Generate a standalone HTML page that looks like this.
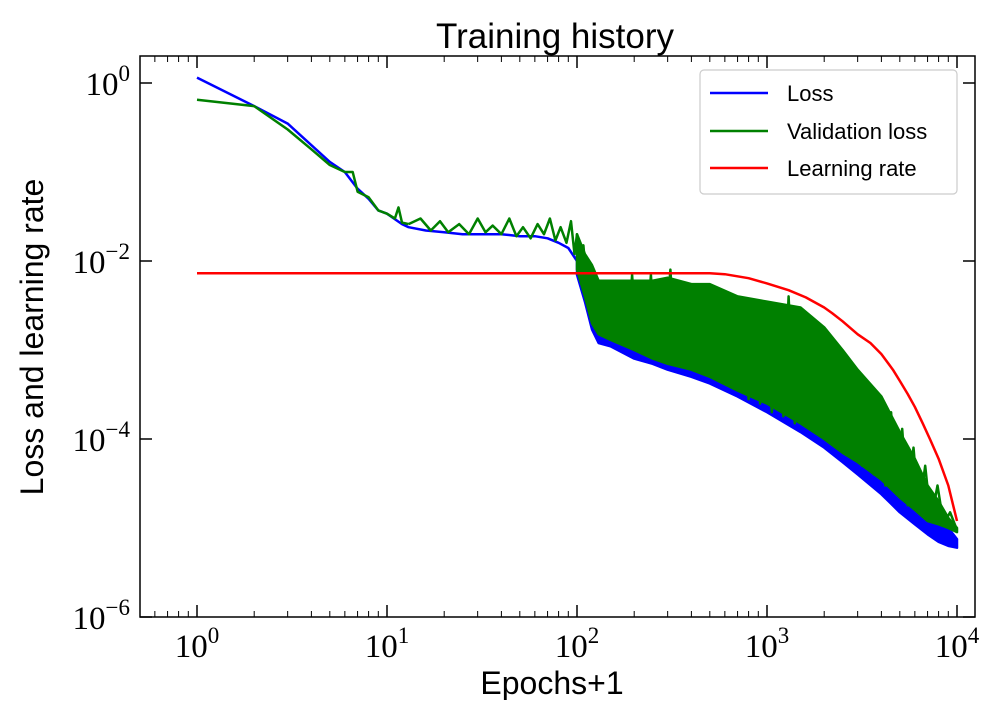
<!DOCTYPE html>
<html><head><meta charset="utf-8"><style>
body{margin:0;background:#fff;}
svg text{font-family:"Liberation Sans",sans-serif;}
.tl{font-family:"Liberation Serif",serif;font-size:33px;}
</style></head><body>
<svg id="chart" width="1000" height="700" xmlns="http://www.w3.org/2000/svg">
<text x="555" y="48" font-size="35" text-anchor="middle">Training history</text>
<g id="plot"></g>
<g id="axes"></g>
<text x="552" y="694" font-size="32" text-anchor="middle">Epochs+1</text>
<text transform="translate(43,337) rotate(-90)" font-size="32" text-anchor="middle">Loss and learning rate</text>
<g>
<rect x="700" y="70" width="257" height="124" rx="4" fill="#fff" stroke="#ccc" stroke-width="1.2"/>
<line x1="710" y1="93" x2="768" y2="93" stroke="#0000ff" stroke-width="2.5"/>
<text x="787" y="101" font-size="22">Loss</text>
<line x1="710" y1="131" x2="768" y2="131" stroke="#008000" stroke-width="2.5"/>
<text x="787" y="139" font-size="22">Validation loss</text>
<line x1="710" y1="168" x2="768" y2="168" stroke="#ff0000" stroke-width="2.5"/>
<text x="787" y="176" font-size="22">Learning rate</text>
</g>
</svg>
<script>
const xTicks=[0,1,2,3,4];
const yTicks=[0,-2,-4,-6];
const lossEarlyEpochs=[1,2,3,4,5,6,7,8,9,10,12,13,16,20,25,30,40,50,60,70,80,90,100];
const lossEarly=[1.15,0.55,0.35,0.2,0.13,0.1,0.065,0.05,0.037,0.034,0.026,0.024,0.022,0.021,0.02,0.02,0.02,0.019,0.019,0.018,0.016,0.014,0.01];
const valEarlyEpochs=[1,2,3,4,5,6,6.6,7,8,9,10,11,11.5,12,13];
const valEarly=[0.65,0.55,0.3,0.18,0.12,0.1,0.1,0.06,0.052,0.037,0.034,0.03,0.04,0.027,0.026];
const bandEpochs=[100,110,120,130,150,200,250,300,400,500,700,1000,1500,2000,2500,3000,4000,5000,6000,7000,8000,9000,10000];
const valHi=[0.02,0.012,0.009,0.006,0.006,0.006,0.006,0.0065,0.0055,0.0055,0.004,0.0035,0.003,0.0018,0.001,0.0006,0.0003,0.00012,0.00006,0.00003,0.00002,0.000013,0.00001];
const valLo=[0.008,0.004,0.002,0.0015,0.0013,0.001,0.0008,0.0007,0.0006,0.0005,0.00035,0.00025,0.00015,0.0001,0.00007,0.000055,0.000035,0.000022,0.000016,0.000012,0.000011,0.00001,0.000009];
const lossHi=[0.016,0.01,0.007,0.005,0.005,0.005,0.005,0.005,0.0045,0.0045,0.0032,0.0028,0.0024,0.0014,0.0008,0.0005,0.00024,0.0001,0.00005,0.000024,0.000015,0.00001,0.0000075];
const lossLo=[0.007,0.0035,0.0017,0.0012,0.0011,0.0008,0.0007,0.0006,0.0005,0.00042,0.0003,0.0002,0.00012,0.00008,0.000055,0.00004,0.000024,0.000015,0.000011,0.0000085,0.000007,0.0000063,0.000006];
const valNoiseEpochs=[13,15,17,19,21,24,27,30,33,36,40,44,48,52,57,62,67,72,77,82,88,93,97,100,104,108,112,118,123,128,135,142,150,158,166,175,185,195,205,218,230,245,260,275,290,310,330,350,370,395,420,450,480,510,545,580,620,660,700,750,800,860,920,990,1060,1140,1220,1300,1400,1500,1600,1720,1840,1970,2100,2250,2400,2580,2760,2960,3170,3400,3650,3900,4200,4500,4800,5150,5500,5900,6300,6800,7300,7900,8500,9200,10000];
const valNoise=[0.026,0.03,0.022,0.028,0.021,0.026,0.02,0.03,0.021,0.025,0.02,0.03,0.019,0.024,0.018,0.026,0.02,0.03,0.017,0.024,0.016,0.028,0.012,0.02,0.009,0.015,0.006,0.009,0.003,0.006,0.0022,0.005,0.0018,0.006,0.0016,0.005,0.0012,0.007,0.0014,0.0045,0.001,0.007,0.0009,0.004,0.0012,0.008,0.0008,0.0045,0.0007,0.005,0.0006,0.005,0.0007,0.004,0.0005,0.0045,0.0004,0.0035,0.0004,0.003,0.00028,0.0028,0.00025,0.0025,0.0002,0.0022,0.00018,0.004,0.00015,0.0018,0.00014,0.0015,0.00012,0.0012,0.0001,0.0009,0.00008,0.0008,0.00007,0.0006,0.00005,0.0004,0.00004,0.0003,0.00003,0.0002,0.000024,0.00013,0.000018,0.00008,0.000015,0.00005,0.000012,0.00003,0.000011,0.000015,0.0000095];
const lrEpochs=[1,500,600,800,1000,1300,1600,2000,2200,2500,3000,3500,4000,4600,5000,5500,6000,6600,7200,8000,9000,10000];
const lrValues=[0.0073,0.0073,0.0071,0.0064,0.0056,0.0047,0.0039,0.003,0.0026,0.0021,0.0015,0.0012,0.0009,0.0006,0.00045,0.00032,0.00023,0.00015,0.0001,0.00006,0.00003,0.000012];

const NS='http://www.w3.org/2000/svg';
const X=v=>197+190*Math.log10(v);
const Y=v=>83-89*Math.log10(v);
const plot=document.getElementById('plot');
const axes=document.getElementById('axes');
function mk(tag,attrs,parent){const e=document.createElementNS(NS,tag);for(const k in attrs)e.setAttribute(k,attrs[k]);parent.appendChild(e);return e;}
function pts(xs,ys){return xs.map((x,i)=>X(x).toFixed(1)+','+Y(ys[i]).toFixed(1)).join(' ');}
function band(xs,hi,lo,color,name){
  const p=xs.map((x,i)=>X(x).toFixed(1)+','+Y(hi[i]).toFixed(1)).concat(xs.slice().reverse().map((x,j)=>{const i=xs.length-1-j;return X(x).toFixed(1)+','+Y(lo[i]).toFixed(1);})).join(' ');
  const e=mk('polygon',{points:p,fill:color,stroke:color,'stroke-width':2.5,'stroke-linejoin':'round'},plot);
  
  
}
function line(xs,ys,color,name){
  const e=mk('polyline',{points:pts(xs,ys),fill:'none',stroke:color,'stroke-width':2.5,'stroke-linejoin':'round'},plot);
  
  
}
band(bandEpochs,lossHi,lossLo,'#0000ff','loss-band');
line(lossEarlyEpochs,lossEarly,'#0000ff','loss-line');
band(bandEpochs,valHi,valLo,'#008000','validation-loss-band');
line(valEarlyEpochs,valEarly,'#008000','validation-loss-line');
line(valNoiseEpochs,valNoise,'#008000','validation-loss-noise');
line(lrEpochs,lrValues,'#ff0000','learning-rate-line');

const L=140,R=975,T=56,B=617;
const frame=mk('rect',{x:L,y:T,width:R-L,height:B-T,fill:'none',stroke:'#000','stroke-width':1.5},axes);


xTicks.forEach(d=>{
  const x=X(Math.pow(10,d));
  let t=mk('line',{x1:x,y1:B,x2:x,y2:B-12,stroke:'#000','stroke-width':1.5},axes);
  
  
  t=mk('line',{x1:x,y1:T,x2:x,y2:T+12,stroke:'#000','stroke-width':1.5},axes);
  
  
  const lab=mk('text',{x:x,y:657,'text-anchor':'middle',class:'tl'},axes);
  
  
  lab.innerHTML='10<tspan dy="-14" font-size="23">'+d+'</tspan>';
});
for(let d=-1;d<=3;d++){for(let m=2;m<=9;m++){const v=m*Math.pow(10,d);const x=X(v);if(x<L||x>R)continue;
  let t=mk('line',{x1:x,y1:B,x2:x,y2:B-6,stroke:'#000','stroke-width':1},axes);
  
  
  t=mk('line',{x1:x,y1:T,x2:x,y2:T+6,stroke:'#000','stroke-width':1},axes);
  
  }}
yTicks.forEach(d=>{
  const y=Y(Math.pow(10,d));
  let t=mk('line',{x1:L,y1:y,x2:L+12,y2:y,stroke:'#000','stroke-width':1.5},axes);
  
  
  t=mk('line',{x1:R,y1:y,x2:R-12,y2:y,stroke:'#000','stroke-width':1.5},axes);
  
  
  const lab=mk('text',{x:130,y:y+12,'text-anchor':'end',class:'tl'},axes);
  
  
  lab.innerHTML='10<tspan dy="-14" font-size="23">'+(d<0?'\u2212'+(-d):d)+'</tspan>';
});
</script>
</body></html>
